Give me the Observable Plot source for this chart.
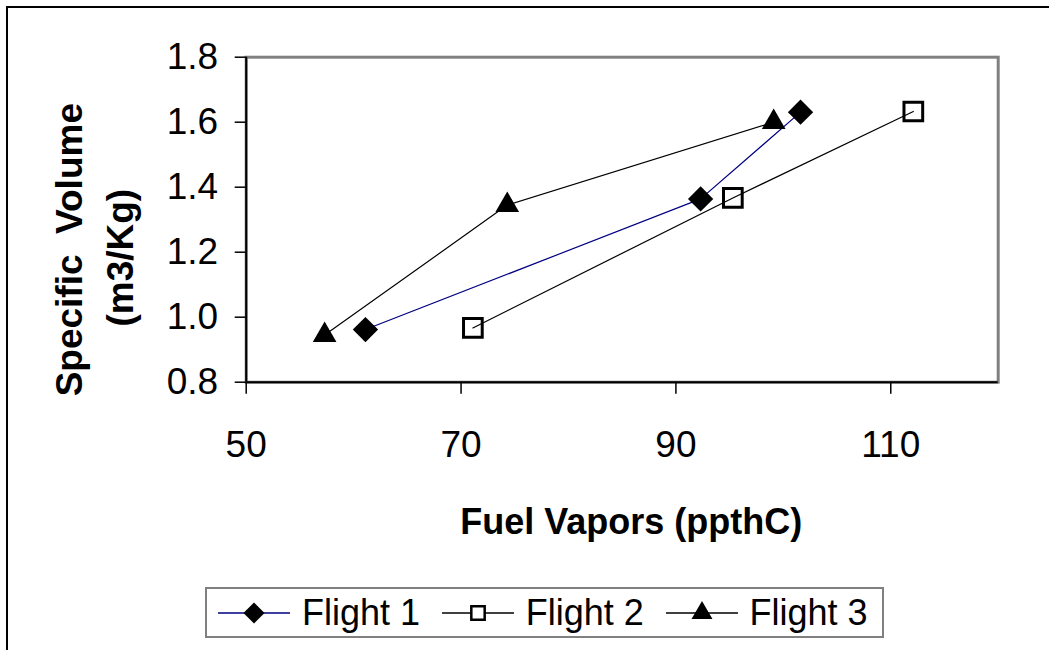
<!DOCTYPE html>
<html>
<head>
<meta charset="utf-8">
<script src="https://cdn.jsdelivr.net/npm/d3@7"></script>
<script src="https://cdn.jsdelivr.net/npm/@observablehq/plot@0.6"></script>
<style>
  html, body { margin: 0; padding: 0; background: #fff; }
  #wrap { position: relative; width: 1049px; height: 650px; overflow: hidden; font-family: Arial, "Liberation Sans", sans-serif; }
  #outer { position: absolute; left: 6px; top: 6px; width: 1200px; height: 800px; border-left: 2px solid #000; border-top: 2px solid #000; }
  #chart { position: absolute; left: 0; top: 0; }
  #legend { position: absolute; left: 205px; top: 587px; width: 679px; height: 51px; box-sizing: border-box;
            border: 2px solid #808080; background: #fff; }
  .item { position: absolute; top: 0; height: 47px; display: flex; align-items: center; }
  .item span { font-size: 36px; color: #000; line-height: 47px; margin-left: 12px; white-space: nowrap; }
</style>
</head>
<body>
<div id="wrap">
  <div id="outer"></div>
  <div id="chart"></div>
  <div id="legend"></div>
</div>
<script>
// ---- Data ----
const flightNames = ["Flight 1", "Flight 2", "Flight 3"];
const flight1X = [61.1, 92.3, 101.6];
const flight1Y = [0.962, 1.364, 1.631];
const flight2X = [71.1, 95.3, 112.1];
const flight2Y = [0.967, 1.367, 1.633];
const flight3X = [57.3, 74.3, 99.1];
const flight3Y = [0.945, 1.345, 1.600];
const xTicks = [50, 70, 90, 110];
const yTicks = [0.8, 1.0, 1.2, 1.4, 1.6, 1.8];
const xTitle = "Fuel Vapors (ppthC)";
const yTitleLine1 = "Specific\u00A0\u00A0Volume";
const yTitleLine2 = "(m3/Kg)";

// ---- Styles ----
const lineColors = ["#000080", "#000000", "#000000"];
const symbols = ["diamond2", "square2", "triangle2"];
const symbolR = [11.4, 11.9, 11.3];
const symbolFill = ["black", "none", "black"];
const symbolStroke = ["none", "black", "none"];
const symbolStrokeWidth = [0, 3, 0];

const seriesX = [flight1X, flight2X, flight3X];
const seriesY = [flight1Y, flight2Y, flight3Y];
const series = flightNames.map((name, k) =>
  seriesX[k].map((x, i) => ({flight: name, x, y: seriesY[k][i]}))
);

const marks = [
  Plot.frame({stroke: "#808080", strokeWidth: 3}),
  Plot.ruleX([50], {stroke: "#000", strokeWidth: 2}),
  Plot.ruleY([0.8], {stroke: "#000", strokeWidth: 2}),
  Plot.axisY(yTicks, {tickSize: 11, tickPadding: 17, tickFormat: d3.format(".1f"),
    stroke: "#000", strokeWidth: 1.5, fill: "#000", fontSize: 37, label: null}),
  Plot.axisX(xTicks, {tickSize: 12, tickPadding: 37, tickFormat: d3.format("d"),
    stroke: "#000", strokeWidth: 1.5, fill: "#000", fontSize: 37, label: null}),
];
series.forEach((rows, k) => {
  marks.push(Plot.line(rows, {x: "x", y: "y", stroke: lineColors[k], strokeWidth: 1.2}));
});
series.forEach((rows, k) => {
  marks.push(Plot.dot(rows, {x: "x", y: "y", symbol: symbols[k], r: symbolR[k],
    fill: symbolFill[k], stroke: symbolStroke[k], strokeWidth: symbolStrokeWidth[k]}));
});
// axis titles
marks.push(Plot.text([xTitle], {frameAnchor: "bottom", dy: 140, dx: 9, lineAnchor: "middle",
  textAnchor: "middle", fontWeight: "bold", fontSize: 36, fill: "#000"}));
marks.push(Plot.text([yTitleLine1], {frameAnchor: "left", dx: 70 - 245.7, dy: 30, rotate: -90,
  textAnchor: "middle", lineAnchor: "middle", fontWeight: "bold", fontSize: 37, fill: "#000"}));
marks.push(Plot.text([yTitleLine2], {frameAnchor: "left", dx: 121 - 245.7, dy: 38, rotate: -90,
  textAnchor: "middle", lineAnchor: "middle", fontWeight: "bold", fontSize: 37, fill: "#000"}));

const chart = Plot.plot({
  width: 1049,
  height: 650,
  marginLeft: 245.7,
  marginTop: 56.7,
  marginRight: 51.3,
  marginBottom: 268.3,
  style: {fontFamily: "Arial, 'Liberation Sans', sans-serif", fontSize: "35px", background: "transparent", color: "#000"},
  x: {domain: [50, 120], label: null},
  y: {domain: [0.8, 1.8], label: null},
  marks
});
document.getElementById("chart").appendChild(chart);

// ---- Legend ----
const legend = d3.select("#legend");
const itemLeft = [11, 234.7, 458.5];
flightNames.forEach((name, k) => {
  const item = legend.append("div").attr("class", "item").style("left", itemLeft[k] + "px");
  const svg = item.append("svg").attr("width", 72).attr("height", 30);
  svg.append("line").attr("x1", 0).attr("x2", 72).attr("y1", 15).attr("y2", 15)
    .attr("stroke", lineColors[k]).attr("stroke-width", 1.5);
  const symMap = {diamond2: d3.symbolDiamond2, square2: d3.symbolSquare2, triangle2: d3.symbolTriangle2};
  const legR = [9.5, 8.5, 10][k];
  svg.append("path")
    .attr("transform", "translate(36,15)")
    .attr("d", d3.symbol(symMap[symbols[k]], Math.PI * legR * legR)())
    .attr("fill", symbolFill[k] === "none" ? "#fff" : symbolFill[k])
    .attr("stroke", symbolStroke[k]).attr("stroke-width", symbolStrokeWidth[k] ? 2.5 : 0);
  item.append("span").text(name);
});
</script>
</body>
</html>
